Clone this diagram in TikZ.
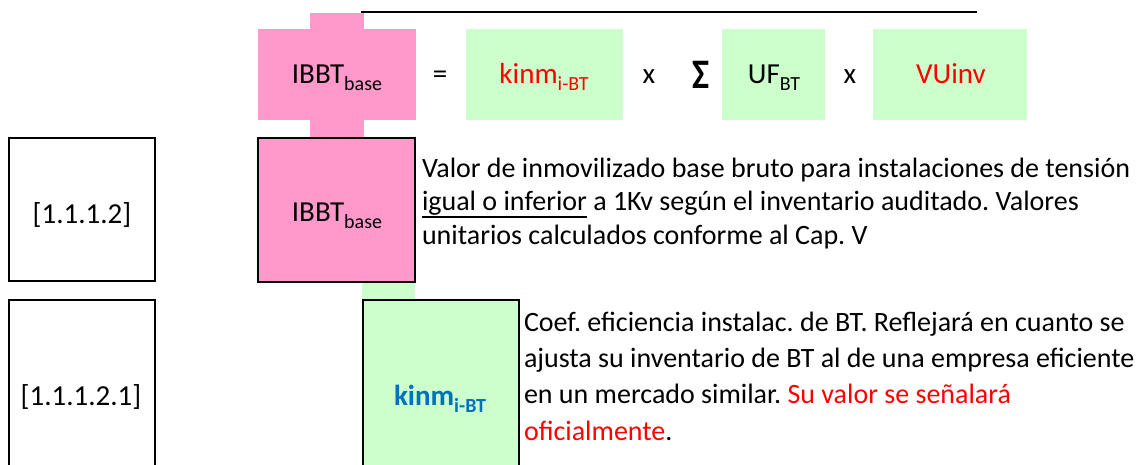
\documentclass[tikz,border=0pt]{standalone}
\usepackage{fontspec}
\setmainfont{Carlito}
\frenchspacing
\definecolor{pinkf}{HTML}{FF99CC}
\definecolor{greenf}{HTML}{CCFFCC}
\definecolor{redt}{HTML}{FF0000}
\definecolor{bluet}{HTML}{0070C0}
\newcommand\lowsub[1]{\raisebox{-7pt}{\fontsize{20}{22}\selectfont #1}}
\newcommand\ulin[1]{\setbox0\hbox{#1}\rlap{\rule[-7pt]{\wd0}{1.4pt}}\box0\relax}
\begin{document}
\begin{tikzpicture}[x=1pt,y=-1pt,
  every node/.style={inner sep=0pt,outer sep=0pt},
  fillpink/.style={fill=pinkf,draw=none,anchor=north west},
  fillgreen/.style={fill=greenf,draw=none,anchor=north west},
  boxline/.style={draw=black,line width=1.6pt},
  txt/.style={anchor=base,font=\fontsize{29}{35}\selectfont},
  desc/.style={anchor=base west,font=\fontsize{28}{34}\selectfont}]
\useasboundingbox (0,0) rectangle (1137,464);
% top rule
\coordinate (tl) at (361,12);
\coordinate (tr) at (977,12);
\draw[line width=1.4pt] (tl) -- (tr);
% formula row
\node[fillpink,minimum width=54,minimum height=125] (stem) at (310,13) {};
\node[fillpink,minimum width=158,minimum height=91] (fb) at (258,29) {};
\node[fillgreen,minimum width=157,minimum height=91] (fkb) at (466,29) {};
\node[fillgreen,minimum width=103,minimum height=91] (fub) at (722,29) {};
\node[fillgreen,minimum width=154,minimum height=91] (fvb) at (873,29) {};
\node[txt] (fl) at (337,83) {IBBT\lowsub{base}};
\node[txt] (eq) at (440,83) {=};
\node[txt,text=redt] (fk) at (544,83) {kinm\lowsub{i-BT}};
\node[txt] (x1) at (649,83) {x};
\node[txt] (sig) at (701,83) {\raisebox{-5pt}{\scalebox{1.25}[1.45]{\bfseries Σ}}};
\node[txt] (uf) at (774,83) {UF\lowsub{BT}};
\node[txt] (x2) at (850,83) {x};
\node[txt,text=redt] (vu) at (951,83) {VUinv};
% row 1
\node[fillgreen,minimum width=53,minimum height=20] (gstem) at (362,281) {};
\node[boxline,anchor=north west,minimum width=146,minimum height=143] (r1) at (9,138) {};
\node[txt] (l1) at (82,223) {[1.1.1.2]};
\node[boxline,fill=pinkf,anchor=north west,minimum width=157,minimum height=144] (ibox) at (258,138) {};
\node[txt] (ib) at (337,221) {IBBT\lowsub{base}};
\node[desc] (d1a) at (422,177) {Valor de inmovilizado base bruto para instalaciones de tensión};
\node[desc] (d1b) at (422,210.5) {\ulin{igual o inferior} a 1Kv según el inventario auditado. Valores};
\node[desc] (d1c) at (422,244) {unitarios calculados conforme al Cap. V};
% row 2
\node[anchor=north west,minimum width=146,minimum height=175] (r2) at (9,300) {};
\draw[boxline] (r2.south west) -- (r2.north west) -- (r2.north east) -- (r2.south east);
\node[txt] (l2) at (81,405) {[1.1.1.2.1]};
\node[fillgreen,minimum width=156,minimum height=175] (kbox) at (363,300) {};
\draw[boxline] (kbox.south west) -- (kbox.north west) -- (kbox.north east) -- (kbox.south east);
\node[txt,text=bluet,font=\fontsize{29}{35}\selectfont\bfseries] (kb) at (440,405) {kinm\lowsub{i-BT}};
\node[desc] (d2a) at (524,331) {Coef. eficiencia instalac. de BT. Reflejará en cuanto se};
\node[desc] (d2b) at (524,367) {ajusta su inventario de BT al de una empresa eficiente};
\node[desc] (d2c) at (524,403) {en un mercado similar. \textcolor{redt}{Su valor se señalará}};
\node[desc] (d2d) at (524,440) {\textcolor{redt}{oficialmente}.};
\end{tikzpicture}
\end{document}
